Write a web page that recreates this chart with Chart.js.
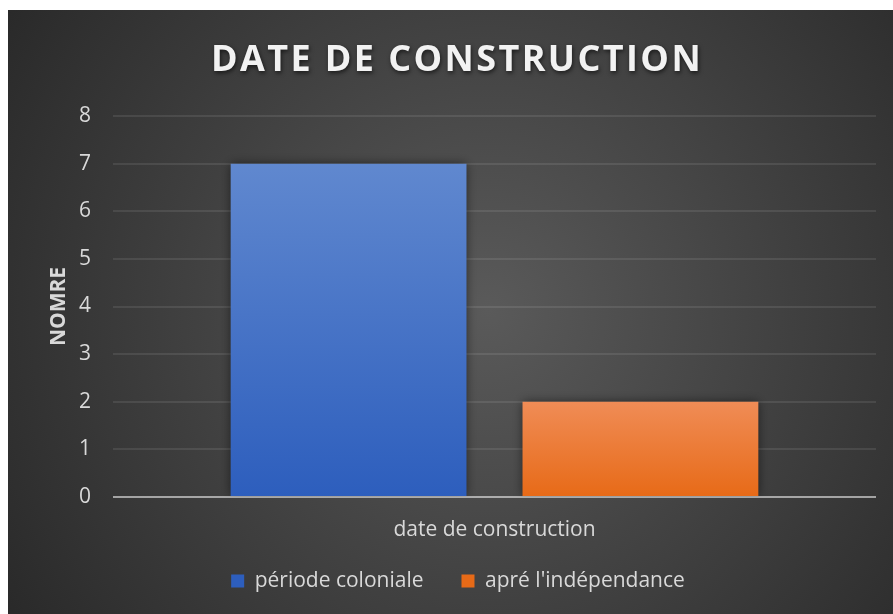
<!DOCTYPE html>
<html>
<head>
<meta charset="utf-8">
<script src="https://cdn.jsdelivr.net/npm/chart.js@4"></script>
<style>
  html, body { margin: 0; padding: 0; background: #ffffff; }
  #wrap { position: absolute; left: 8px; top: 10px; width: 885px; height: 604px; }
</style>
</head>
<body>
<div id="wrap"><canvas id="c" width="885" height="604"></canvas></div>
<script>
// Category, series and axis data
const categories = ['date de construction'];
const seriesNames = ['période coloniale', "apré l'indépendance"];
const colonialValues = [7];
const independenceValues = [2];
const yTicks = [0, 1, 2, 3, 4, 5, 6, 7, 8];

const FONT = "'Open Sans', 'DejaVu Sans', sans-serif";
const TEXT = '#d9d9d9';

// Vertical gradient for one bar, running from its top down to the baseline
function barFill(top, bottom, solid) {
  return function (ctx) {
    const chart = ctx.chart;
    if (ctx.type !== 'data' || !chart.chartArea) return solid;
    const ys = chart.scales.y;
    const v = ctx.dataset.data[ctx.dataIndex];
    const y0 = ys.getPixelForValue(v);
    const y1 = ys.getPixelForValue(0);
    const g = chart.ctx.createLinearGradient(0, y0, 0, y1);
    g.addColorStop(0, top);
    g.addColorStop(1, bottom);
    return g;
  };
}

// Dark radial backdrop, chart title and the bar shadows
const decor = {
  id: 'decor',
  afterLayout(chart) {
    // nudge the legend row to the right
    if (chart.legend) {
      chart.legend.left += 16;
      chart.legend.right += 16;
    }
  },
  beforeDraw(chart) {
    const { ctx, width, height } = chart;
    ctx.save();
    const g = ctx.createRadialGradient(480, 300, 0, 480, 300, 620);
    g.addColorStop(0, '#5a5a5a');
    g.addColorStop(1, '#252525');
    ctx.fillStyle = g;
    ctx.fillRect(0, 0, width, height);
    ctx.restore();
  },
  beforeDatasetsDraw(chart) {
    const ctx = chart.ctx;
    ctx.save();
    ctx.shadowColor = 'rgba(0,0,0,0.55)';
    ctx.shadowBlur = 10;
    ctx.shadowOffsetX = 0;
    ctx.shadowOffsetY = 0;
  },
  afterDatasetsDraw(chart) {
    const ctx = chart.ctx;
    ctx.restore();
    // category axis line, drawn over the bar bases
    const ys = chart.scales.y;
    const y = Math.round(ys.getPixelForValue(0));
    ctx.save();
    ctx.strokeStyle = 'rgba(255,255,255,0.5)';
    ctx.lineWidth = 2;
    ctx.beginPath();
    ctx.moveTo(chart.chartArea.left, y);
    ctx.lineTo(chart.chartArea.right, y);
    ctx.stroke();
    ctx.restore();
  },
  afterDraw(chart) {
    const ctx = chart.ctx;
    ctx.save();
    ctx.font = 'bold 36px ' + FONT;
    ctx.letterSpacing = '2.4px';
    ctx.textAlign = 'center';
    ctx.textBaseline = 'middle';
    ctx.fillStyle = '#f2f2f2';
    ctx.shadowColor = 'rgba(0,0,0,0.6)';
    ctx.shadowBlur = 4;
    ctx.shadowOffsetX = 1;
    ctx.shadowOffsetY = 2;
    ctx.fillText('DATE DE CONSTRUCTION', 449, 50.5);
    ctx.restore();
  }
};

new Chart(document.getElementById('c'), {
  type: 'bar',
  data: {
    labels: categories,
    datasets: [
      {
        label: seriesNames[0],
        data: colonialValues,
        backgroundColor: barFill('#6088cf', '#2d5ebd', '#3c6cc8'),
        borderWidth: 0
      },
      {
        label: seriesNames[1],
        data: independenceValues,
        backgroundColor: barFill('#f08c56', '#e76a17', '#ef7b2c'),
        borderWidth: 0
      }
    ]
  },
  plugins: [decor],
  options: {
    responsive: false,
    devicePixelRatio: 1,
    animation: false,
    events: [],
    categoryPercentage: 0.765,
    barPercentage: 0.808,
    layout: { padding: { top: 106, right: 17, left: 0, bottom: 12.5 } },
    scales: {
      x: {
        afterFit(scale) {
          scale.height = 35.5;
          // let the category label run below the axis box without clipping
          scale._computeLabelArea = () => undefined;
        },
        grid: { display: false, drawTicks: false },
        border: { display: false },
        ticks: { color: TEXT, font: { family: FONT, size: 21 }, padding: 20 }
      },
      y: {
        min: 0,
        max: 8,
        afterBuildTicks(scale) { scale.ticks = yTicks.map(v => ({ value: v })); },
        afterFit(scale) { scale.width = 105; },
        grid: { color: 'rgba(255,255,255,0.09)', lineWidth: 2, drawTicks: false },
        border: { display: false },
        ticks: { color: TEXT, font: { family: FONT, size: 21 }, padding: 22 },
        title: {
          display: true,
          text: 'NOMRE',
          color: TEXT,
          font: { family: FONT, size: 21, weight: 'bold' },
          padding: { top: 38 }
        }
      }
    },
    plugins: {
      title: { display: false },
      tooltip: { enabled: false },
      legend: {
        position: 'bottom',
        labels: {
          color: TEXT,
          font: { family: FONT, size: 21 },
          boxWidth: 13,
          boxHeight: 13,
          padding: 38
        }
      }
    }
  }
});
</script>
</body>
</html>
